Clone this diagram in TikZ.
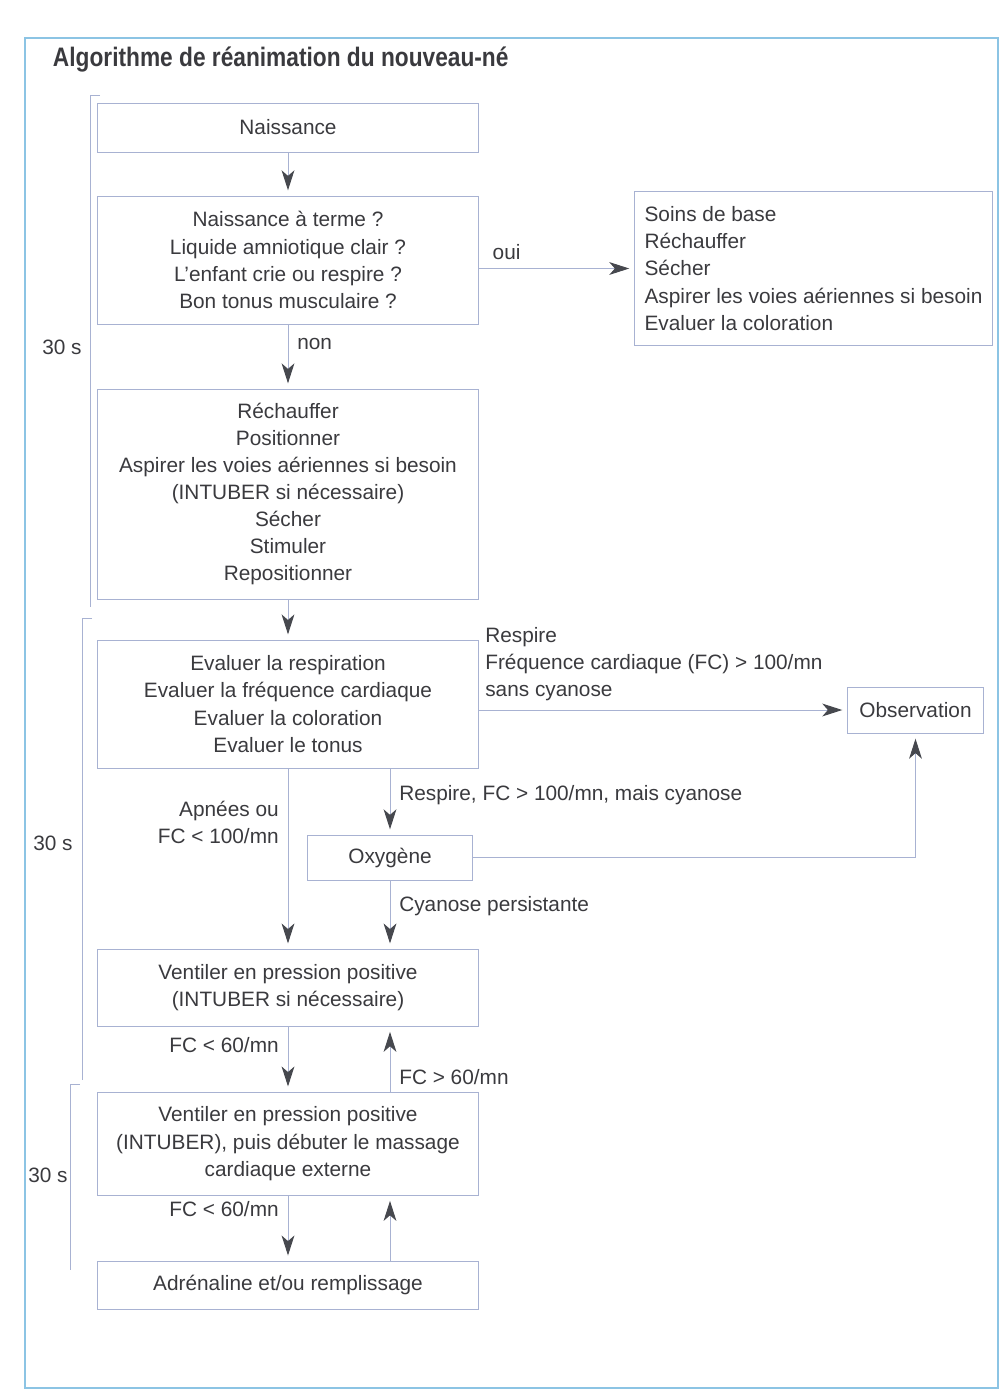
\documentclass[tikz,border=0pt]{standalone}
\usepackage{fontspec}
\setmainfont{Liberation Sans}
\newfontfamily\titlefont[FakeStretch=0.85]{Liberation Sans}
\usepackage{tikz}
\usetikzlibrary{arrows.meta,positioning}
\definecolor{cLine}{RGB}{168,178,210}
\definecolor{cText}{RGB}{58,58,62}
\definecolor{cHead}{RGB}{70,72,78}
\definecolor{cFrame}{RGB}{140,196,228}
\newcommand{\boxfont}{\fontsize{14.8}{19.3}\selectfont}
\tikzset{
  box/.style={rectangle,draw=cLine,line width=0.7pt,align=center,
              font=\boxfont,text=cText,inner sep=0pt},
  lbl/.style={font=\boxfont,text=cText,inner sep=0.22cm},
  arr/.style={draw=cLine,line width=0.7pt,shorten >=0.13cm,
              -{Stealth[length=0.5cm,width=0.32cm,inset=0.14cm,color=cHead]}},
  brk/.style={draw=cLine,line width=0.7pt},
  frame/.style={draw=cFrame,line width=0.8pt}
}
\begin{document}
\begin{tikzpicture}[x=0.025cm,y=-0.025cm]
  \useasboundingbox (0,0) rectangle (1007,1396);

  % cadre et titre
  \draw[frame] (25,38) rectangle (998,1388);
  \node[anchor=west,text=cText,font=\titlefont\bfseries\fontsize{19}{22}\selectfont]
      (titre) at (48,60) {Algorithme de réanimation du nouveau-né};

  % colonne principale
  \node[box,minimum width=9.5cm,minimum height=1.225cm] (nais) at (288,127.5)
      {Naissance};
  \node[box,minimum width=9.5cm,minimum height=3.2cm,below=1.075cm of nais] (quest)
      {Naissance à terme ?\\Liquide amniotique clair ?\\L'enfant crie ou respire ?\\Bon tonus musculaire ?};
  \node[box,minimum width=9.5cm,minimum height=5.25cm,below=1.6cm of quest] (rech)
      {Réchauffer\\Positionner\\Aspirer les voies aériennes si besoin\\(INTUBER si nécessaire)\\Sécher\\Stimuler\\Repositionner};
  \node[box,minimum width=9.5cm,minimum height=3.2cm,below=1.0cm of rech] (eval)
      {Evaluer la respiration\\Evaluer la fréquence cardiaque\\Evaluer la coloration\\Evaluer le tonus};
  \node[box,minimum width=9.5cm,minimum height=1.925cm,below=4.5cm of eval] (vent)
      {Ventiler en pression positive\\(INTUBER si nécessaire)};
  \node[box,minimum width=9.5cm,minimum height=2.575cm,below=1.625cm of vent] (vent2)
      {Ventiler en pression positive\\(INTUBER), puis débuter le massage\\cardiaque externe};
  \node[box,minimum width=9.5cm,minimum height=1.2cm,below=1.625cm of vent2] (adr)
      {Adrénaline et/ou remplissage};

  % branches
  \node[box,align=left,minimum width=8.925cm,minimum height=3.825cm]
      (soins) at (813.5,268.5)
      {Soins de base\\Réchauffer\\Sécher\\Aspirer les voies aériennes si besoin\\Evaluer la coloration};
  \node[box,minimum width=3.375cm,minimum height=1.15cm] (obs) at (915.5,710)
      {Observation};
  \node[box,minimum width=4.125cm,minimum height=1.125cm] (oxy) at (390,857.5)
      {Oxygène};
  \node[lbl,anchor=west,align=left,inner sep=0pt] (resp) at (485,664)
      {Respire\\Fréquence cardiaque (FC) > 100/mn\\sans cyanose};

  % durees
  \draw[brk] (100,95) -- (90,95) -- (90,607);
  \draw[brk] (92,618) -- (82,618) -- (82,1080);
  \draw[brk] (80,1084) -- (70,1084) -- (70,1270);
  \node[lbl,inner sep=0pt] (t1) at (62,347) {30 s};
  \node[lbl,inner sep=0pt] (t2) at (53,843) {30 s};
  \node[lbl,inner sep=0pt] (t3) at (48,1175) {30 s};

  \coordinate (brch) at (oxy |- eval.south);

  \draw[arr] (nais) -- (quest);
  \draw[arr] (quest.east |- soins.west) -- (soins.west)
      node[lbl,above,pos=0.18]{oui};
  \draw[arr] (quest) -- (rech) node[lbl,right,pos=0.3]{non};
  \draw[arr] (rech) -- (eval);
  \draw[arr] (eval.east |- obs.west) -- (obs.west);
  \draw[arr] (eval) -- (vent)
      node[lbl,left,align=right,pos=0.3]{Apnées ou\\FC < 100/mn};
  \draw[arr] (brch) -- (oxy)
      node[lbl,right,pos=0.4]{Respire, FC > 100/mn, mais cyanose};
  \draw[arr] (oxy.east) -| (obs);
  \draw[arr] (oxy) -- (oxy |- vent.north)
      node[lbl,right,pos=0.37]{Cyanose persistante};
  \draw[arr] (vent) -- (vent2) node[lbl,left,pos=0.28]{FC < 60/mn};
  \draw[arr] (vent2.north -| oxy) -- (vent.south -| oxy)
      node[lbl,right,pos=0.23]{FC > 60/mn};
  \draw[arr] (vent2) -- (adr) node[lbl,left,pos=0.2]{FC < 60/mn};
  \draw[arr] (adr.north -| oxy) -- (vent2.south -| oxy);

\end{tikzpicture}
\end{document}
